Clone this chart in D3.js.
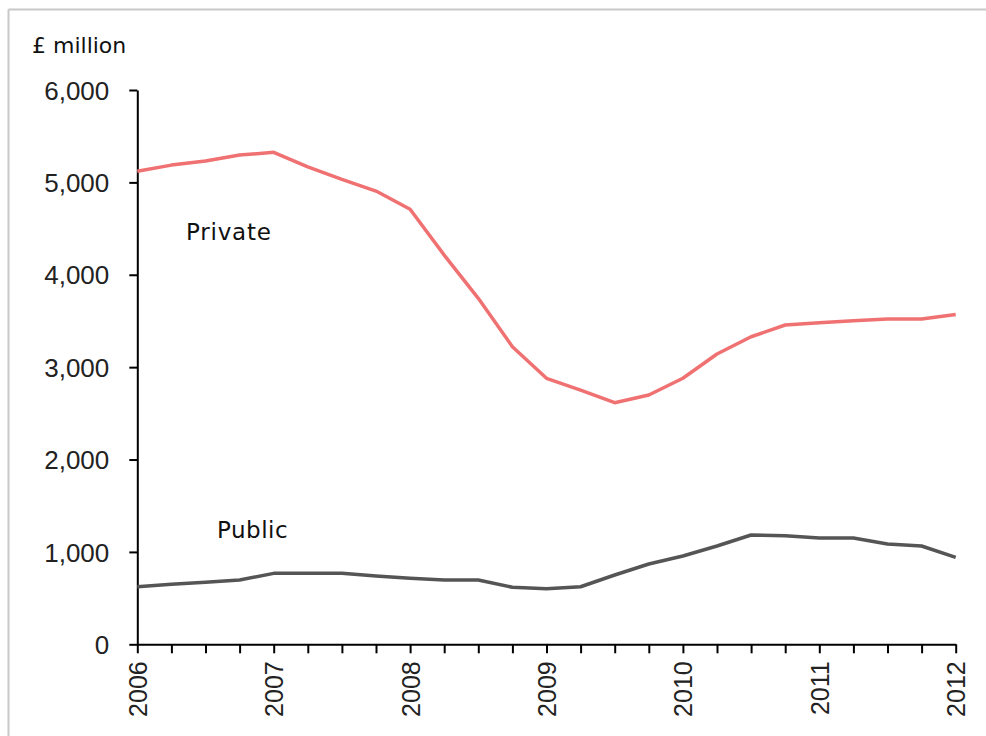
<!DOCTYPE html>
<html>
<head>
<meta charset="utf-8">
<script src="https://cdn.jsdelivr.net/npm/d3@7"></script>
<style>
  html, body { margin: 0; padding: 0; background: #ffffff; overflow: hidden; }
  svg { display: block; }
</style>
</head>
<body>
<svg id="chart" width="986" height="736"></svg>
<script>
// Quarterly data, 2006 Q1 .. 2012 Q1 (£ million)
const quarters = d3.range(0, 25); // quarter index from 2006 Q1
const privateValues = [5120, 5187, 5231, 5296, 5325, 5169, 5032, 4906, 4710, 4213, 3745, 3221, 2879, 2752, 2615, 2698, 2880, 3142, 3329, 3456, 3481, 3502, 3521, 3521, 3571];
const publicValues  = [623, 649, 671, 696, 768, 768, 768, 739, 714, 696, 696, 617, 600, 623, 750, 869, 956, 1064, 1183, 1176, 1150, 1150, 1085, 1064, 941];
const yearLabels = ["2006", "2007", "2008", "2009", "2010", "2011", "2012"];
const yTicks = [0, 1000, 2000, 3000, 4000, 5000, 6000];
const seriesNames = ["Private", "Public"];
const unitLabel = "£ million";

const svg = d3.select("#chart");

// frame border (top and left edges visible)
svg.append("line")
  .attr("x1", 8.5).attr("y1", 9.5).attr("x2", 986).attr("y2", 9.5)
  .attr("stroke", "#c8c8c8").attr("stroke-width", 2);
svg.append("line")
  .attr("x1", 8.5).attr("y1", 9.5).attr("x2", 8.5).attr("y2", 736)
  .attr("stroke", "#c8c8c8").attr("stroke-width", 2);

const x = d3.scaleLinear().domain([0, 24]).range([137.3, 955.7]);
const y = d3.scaleLinear().domain([0, 6000]).range([644.3, 90]);

const fmt = d3.format(",");

// Y axis
const yAxis = svg.append("g")
  .attr("transform", `translate(${x(0)},0)`)
  .call(d3.axisLeft(y).tickValues(yTicks).tickFormat(fmt).tickSize(8).tickPadding(20).tickSizeOuter(0));
yAxis.select(".domain").attr("stroke", "#000").attr("stroke-width", 2);
yAxis.selectAll(".tick line").attr("stroke", "#000").attr("stroke-width", 2);
yAxis.selectAll(".tick text")
  .attr("font-family", "'Liberation Sans', Arial, sans-serif")
  .attr("font-size", 26)
  .attr("fill", "#222")
  .attr("dy", "0.35em");

// X axis (quarterly ticks, yearly labels)
const xAxis = svg.append("g")
  .attr("transform", `translate(0,${y(0)})`)
  .call(d3.axisBottom(x).tickValues(quarters).tickSize(9).tickSizeOuter(0)
    .tickFormat(d => d % 4 === 0 ? yearLabels[d / 4] : ""));
xAxis.select(".domain").attr("stroke", "#000").attr("stroke-width", 2);
xAxis.selectAll(".tick line").attr("stroke", "#000").attr("stroke-width", 2);
xAxis.selectAll(".tick text")
  .attr("font-family", "'Liberation Sans', Arial, sans-serif")
  .attr("font-size", 25)
  .attr("fill", "#222")
  .attr("text-anchor", "end")
  .attr("transform", "rotate(-90)")
  .attr("x", -17)
  .attr("y", 0)
  .attr("dy", "0.36em");

// Lines
const line = d3.line()
  .x((d, i) => x(quarters[i]))
  .y(d => y(d));

svg.append("path")
  .datum(privateValues)
  .attr("d", line)
  .attr("fill", "none")
  .attr("stroke", "#f07172")
  .attr("stroke-width", 3.5)
  .attr("stroke-linejoin", "round");

svg.append("path")
  .datum(publicValues)
  .attr("d", line)
  .attr("fill", "none")
  .attr("stroke", "#555555")
  .attr("stroke-width", 3.5)
  .attr("stroke-linejoin", "round");

// Unit label
svg.append("text")
  .attr("x", 32).attr("y", 53)
  .attr("font-family", "'DejaVu Sans', Verdana, sans-serif")
  .attr("font-size", 22)
  .attr("fill", "#111")
  .text(unitLabel);

// Series labels
svg.append("text")
  .attr("x", 186).attr("y", 240)
  .attr("font-family", "'DejaVu Sans', Verdana, sans-serif")
  .attr("font-size", 23)
  .attr("letter-spacing", 0.8)
  .attr("fill", "#111")
  .text(seriesNames[0]);

svg.append("text")
  .attr("x", 217).attr("y", 538)
  .attr("font-family", "'DejaVu Sans', Verdana, sans-serif")
  .attr("font-size", 23)
  .attr("letter-spacing", 0.5)
  .attr("fill", "#111")
  .text(seriesNames[1]);
</script>
</body>
</html>
